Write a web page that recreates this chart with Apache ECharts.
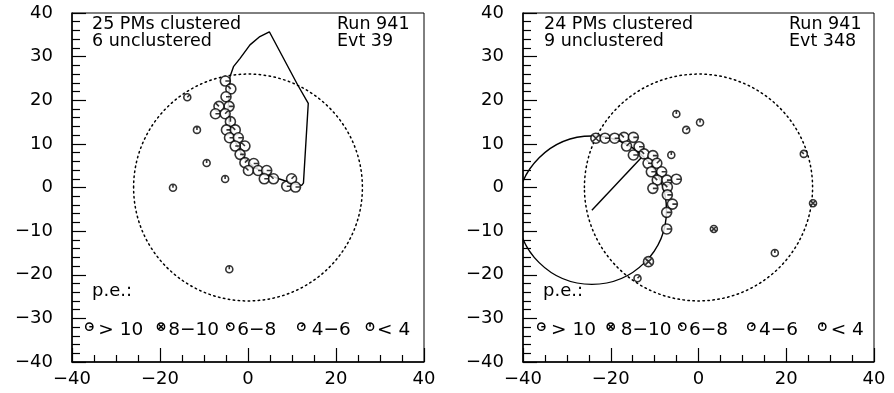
<!DOCTYPE html>
<html><head><meta charset="utf-8">
<script src="https://cdn.jsdelivr.net/npm/echarts@6/dist/echarts.min.js"></script>
<style>html,body{margin:0;padding:0;background:#fff}#c{width:894px;height:393px}</style>
</head><body><div id="c"></div>
<script>
// ---------- data ----------
const AXIS_MIN = -40, AXIS_MAX = 40;
const xTickLabels = [-40, -20, 0, 20, 40];
const yTickLabels = [-40, -30, -20, -10, 0, 10, 20, 30, 40];

// detector outline (center x, center y, radius)
const detectorCircle = [0, 0, 26];

// left event (Run 941, Evt 39)
const leftClusteredX = [-5.15,-3.9,-5.0,-4.3,-6.6,-7.4,-5.2,-4.0,-4.9,-2.9,-4.2,-2.2,-0.7,-2.9,-1.8,-0.7,1.3,0.1,2.3,4.25,3.7,5.8,8.8,9.9,10.8];
const leftClusteredY = [24.4,22.6,20.8,18.6,18.6,16.9,16.9,15.1,13.2,13.2,11.4,11.4,9.5,9.5,7.6,5.7,5.5,3.9,3.9,3.9,2.0,2.0,0.3,2.0,0.1];
const leftClusteredPe = ['> 10','6−8','> 10','> 10','6−8','> 10','4−6','< 4','> 10','6−8','> 10','> 10','6−8','> 10','> 10','4−6','> 10','6−8','> 10','> 10','> 10','6−8','> 10','4−6','> 10'];
const leftUnclX = [-13.8,-11.6,-9.4,-5.2,-17.05,-4.25];
const leftUnclY = [20.7,13.2,5.6,1.95,-0.05,-18.75];
const leftUnclPe = ['4−6','< 4','< 4','< 4','< 4','< 4'];
const leftOutlineX = [-4.1,-3.3,-1.8,0.45,2.7,4.85,11.3,13.7,12.6,12.2,10.0,7.0,4.0,1.5,-0.5,-2.2,-3.5,-4.3,-4.5,-4.3,-4.1];
const leftOutlineY = [25.4,27.7,29.6,32.7,34.6,35.7,23.5,19.3,1.0,0.5,1.0,2.0,3.2,4.6,6.3,9.0,12.0,15.0,18.0,22.0,25.4];

// right event (Run 941, Evt 348)
const rightClusteredX = [-23.4,-21.3,-19.1,-17.0,-14.85,-16.4,-13.55,-14.85,-12.4,-10.4,-11.5,-9.5,-10.75,-8.4,-9.4,-7.2,-5.05,-10.4,-7.1,-7.1,-5.95,-7.25,-7.25,-11.4];
const rightClusteredY = [11.3,11.3,11.3,11.5,11.5,9.5,9.35,7.45,7.7,7.3,5.55,5.55,3.6,3.6,1.7,1.7,1.9,-0.2,0.1,-1.7,-3.8,-5.7,-9.5,-17.0];
const rightClusteredPe = ['8−10','> 10','> 10','6−8','> 10','4−6','> 10','> 10','6−8','> 10','> 10','4−6','> 10','> 10','6−8','> 10','> 10','> 10','6−8','> 10','> 10','> 10','> 10','8−10'];
const rightUnclX = [-5.05,-2.8,0.35,-6.2,24.0,26.1,3.5,17.4,-13.9];
const rightUnclY = [16.85,13.2,14.9,7.45,7.7,-3.6,-9.5,-15.0,-20.8];
const rightUnclPe = ['< 4','4−6','< 4','< 4','6−8','8−10','8−10','< 4','4−6'];
const rightRingCircle = [-24.3, -5.2, 17];
const rightRingLineX = [-24.3, -12.9];
const rightRingLineY = [-5.2, 7.0];

const peCategories = ['> 10','8−10','6−8','4−6','< 4'];
const leftHeader = ['25 PMs clustered','6 unclustered','Run 941','Evt 39'];
const rightHeader = ['24 PMs clustered','9 unclustered','Run 941','Evt 348'];

// ---------- styles ----------
const FONT = 'DejaVu Sans';
const CIRC = 'M0,10A10,10,0,1,1,20,10A10,10,0,1,1,0,10Z';
const peSymbol = {
  '> 10': CIRC + 'M10,10L20,10',
  '8−10': CIRC + 'M3,3L17,17M17,3L3,17',
  '6−8': CIRC + 'M10,10L3,3',
  '4−6': CIRC + 'M10,10L17,3',
  '< 4': CIRC + 'M10,10L10,0'
};
// inner strokes of the legend glyphs (unit circle coordinates)
const peStrokes = {
  '> 10': [[0,0,1,0]],
  '8−10': [[-0.7,-0.7,0.7,0.7],[0.7,-0.7,-0.7,0.7]],
  '6−8': [[0,0,-0.7,-0.7]],
  '4−6': [[0,0,0.7,-0.7]],
  '< 4': [[0,0,0,-1]]
};
const grids = [
  {left: 72, top: 13, width: 352, height: 349},
  {left: 523, top: 13, width: 351, height: 349}
];

function fmt(v){ return v < 0 ? '\u2212' + (-v) : String(v); }

function xAxisFor(i){
  return {gridIndex: i, type: 'value', min: AXIS_MIN, max: AXIS_MAX, interval: 20,
    axisLine: {show: true, onZero: false, lineStyle: {color: '#000', width: 1.5}},
    axisTick: {show: true, inside: true, length: 14, lineStyle: {color: '#000', width: 1.2}},
    minorTick: {show: true, splitNumber: 4, length: 7, lineStyle: {color: '#000', width: 1.2}},
    splitLine: {show: false},
    axisLabel: {show: true, color: '#000', fontSize: 18, fontFamily: FONT, margin: 8,
      formatter: v => xTickLabels.includes(v) ? fmt(v) : ''}};
}
function yAxisFor(i){
  return {gridIndex: i, type: 'value', min: AXIS_MIN, max: AXIS_MAX, interval: 10,
    axisLine: {show: true, onZero: false, lineStyle: {color: '#000', width: 1.5}},
    axisTick: {show: true, inside: true, length: 14, lineStyle: {color: '#000', width: 1.2}},
    minorTick: {show: true, splitNumber: 5, length: 8, lineStyle: {color: '#000', width: 1.2}},
    splitLine: {show: false},
    axisLabel: {show: true, color: '#000', fontSize: 18, fontFamily: FONT, margin: 19,
      formatter: v => yTickLabels.includes(v) ? fmt(v) : ''}};
}

function circleSeries(i, circ, dash, width){
  return {type: 'custom', xAxisIndex: i, yAxisIndex: i, clip: true, z: 1, silent: true,
    dimensions: ['x','y','r'], encode: {x: 0, y: 1},
    data: [circ],
    renderItem: function(params, api){
      const c = api.coord([api.value(0), api.value(1)]);
      const s = api.size([api.value(2), api.value(2)]);
      return {type: 'ellipse', shape: {cx: c[0], cy: c[1], rx: s[0], ry: s[1]},
        style: {fill: 'none', stroke: '#000', lineWidth: width, lineDash: dash, lineCap: 'round'}};
    }};
}
function lineSeries(i, xs, ys){
  return {type: 'line', xAxisIndex: i, yAxisIndex: i, z: 2, silent: true,
    showSymbol: false, symbol: 'none', animation: false,
    lineStyle: {color: '#000', width: 1.4},
    data: xs.map((x, k) => [x, ys[k]])};
}
function scatterSeries(i, xs, ys, pes, size){
  return {type: 'scatter', xAxisIndex: i, yAxisIndex: i, z: 3, silent: true,
    itemStyle: {color: '#fff', borderColor: '#000', borderWidth: 1.6},
    data: xs.map((x, k) => ({value: [x, ys[k]], symbol: 'path://' + peSymbol[pes[k]], symbolSize: size}))};
}

// ---------- graphic texts & legend ----------
const graphic = [];
function addText(t, x, y, size){
  graphic.push({type: 'text', x: x, y: y, silent: true,
    style: {text: t, fill: '#000', fontSize: size, fontFamily: FONT, align: 'left', verticalAlign: 'middle'}});
}
function addHeader(h, xl, xr){
  addText(h[0], xl, 24.5, 17.5);
  addText(h[1], xl, 41.7, 17.5);
  addText(h[2], xr, 24.5, 17.5);
  addText(h[3], xr, 41.7, 17.5);
}
addHeader(leftHeader, 92, 337);
addHeader(rightHeader, 544, 789);
addText('p.e.:', 92, 291, 18);
addText('p.e.:', 543, 291, 18);

const legendLeft = {sym: [89.3, 161, 230.3, 301.3, 370], txt: [98.3, 168.3, 237.3, 311.7, 377]};
const legendRight = {sym: [541.3, 610.7, 682.3, 751.3, 822.3], txt: [551, 620.7, 689, 759, 830.7]};
const LR = 3.6, LY = 326.7;
[legendLeft, legendRight].forEach(L => {
  peCategories.forEach((p, k) => {
    const cx = L.sym[k];
    const children = [{type: 'circle', shape: {cx: cx, cy: LY, r: LR},
      style: {fill: '#fff', stroke: '#000', lineWidth: 1.5}}];
    peStrokes[p].forEach(s => children.push({type: 'line',
      shape: {x1: cx + s[0]*LR, y1: LY + s[1]*LR, x2: cx + s[2]*LR, y2: LY + s[3]*LR},
      style: {stroke: '#000', lineWidth: 1.5}}));
    graphic.push({type: 'group', silent: true, children: children});
    addText(p, L.txt[k], 330, 18.5);
  });
});

const chart = echarts.init(document.getElementById('c'), null, {renderer: 'canvas'});
chart.setOption({
  animation: false,
  backgroundColor: '#fff',
  grid: grids.map(g => Object.assign({show: true, borderColor: '#000', borderWidth: 1, backgroundColor: 'transparent'}, g)),
  xAxis: [xAxisFor(0), xAxisFor(1)],
  yAxis: [yAxisFor(0), yAxisFor(1)],
  series: [
    circleSeries(0, detectorCircle, [1.5, 3.5], 1.5),
    lineSeries(0, leftOutlineX, leftOutlineY),
    scatterSeries(0, leftClusteredX, leftClusteredY, leftClusteredPe, 10),
    scatterSeries(0, leftUnclX, leftUnclY, leftUnclPe, 7),
    circleSeries(1, detectorCircle, [1.5, 3.5], 1.5),
    circleSeries(1, rightRingCircle, null, 1.4),
    lineSeries(1, rightRingLineX, rightRingLineY),
    scatterSeries(1, rightClusteredX, rightClusteredY, rightClusteredPe, 10),
    scatterSeries(1, rightUnclX, rightUnclY, rightUnclPe, 7)
  ],
  graphic: graphic
});
</script></body></html>
